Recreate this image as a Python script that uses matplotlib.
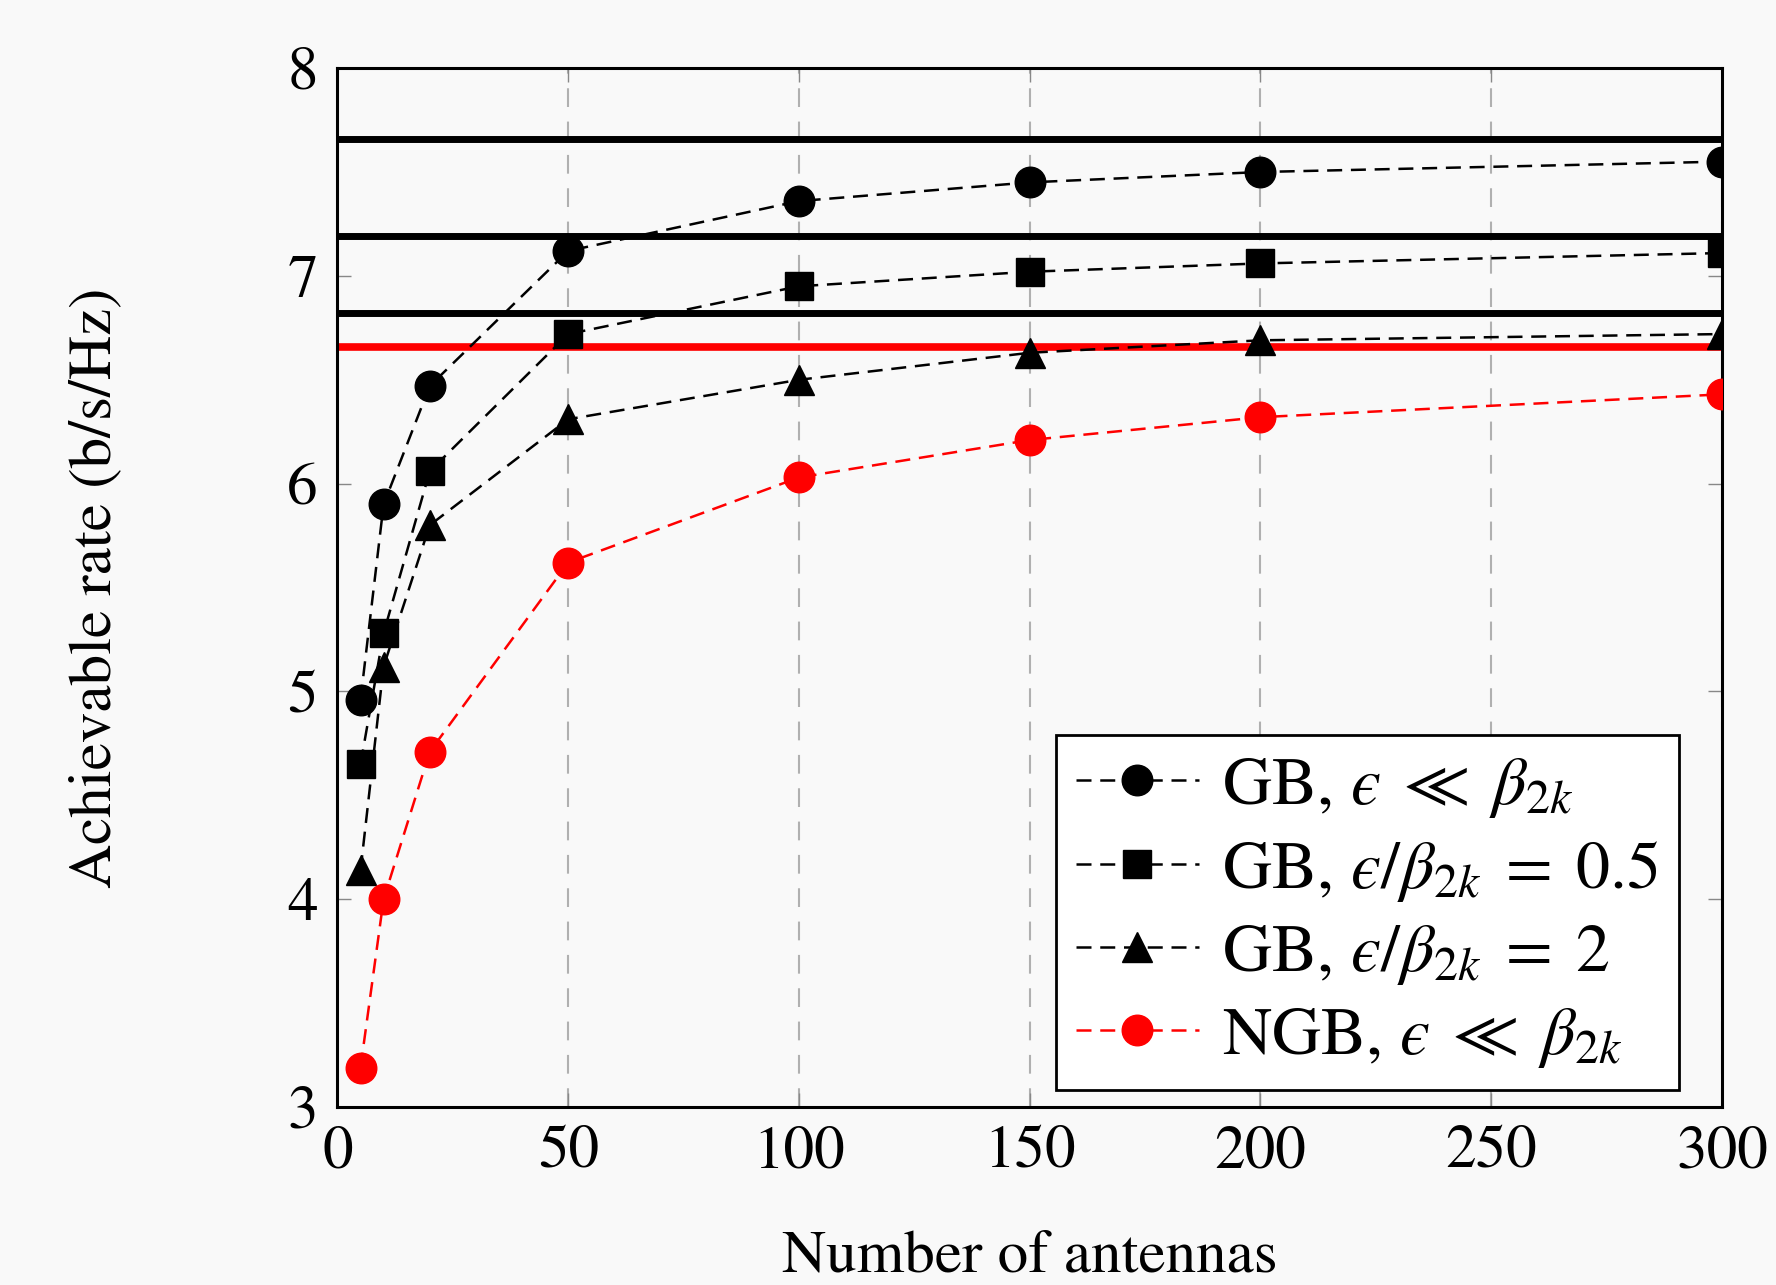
import matplotlib
matplotlib.use("Agg")
import matplotlib.pyplot as plt

plt.rcParams["font.family"] = ["STIXGeneral", "DejaVu Serif"]
plt.rcParams["mathtext.fontset"] = "stix"

# Antenna counts and achievable rates (b/s/Hz)
antennas = [5, 10, 20, 50, 100, 150, 200, 300]
gb_small = [4.96, 5.90, 6.47, 7.12, 7.36, 7.45, 7.50, 7.55]
gb_half = [4.65, 5.28, 6.06, 6.72, 6.95, 7.02, 7.06, 7.11]
gb_two = [4.14, 5.12, 5.80, 6.31, 6.50, 6.63, 6.69, 6.72]
ngb_small = [3.19, 4.00, 4.71, 5.62, 6.03, 6.21, 6.32, 6.43]

# Asymptotic limits
limits_black = [7.66, 7.19, 6.82]
limit_red = 6.66

bg = "#f9f9f9"
fig = plt.figure(figsize=(17.76, 12.85), dpi=100, facecolor=bg)
ax = fig.add_axes([0.19, 0.1385, 0.7796, 0.8085])
ax.set_facecolor(bg)

for y in limits_black:
    ax.axhline(y, color="black", linewidth=5, zorder=2)
ax.axhline(limit_red, color="#ff0000", linewidth=5.5, zorder=2)

eps = "\u03f5"
dash = (0, (6, 3.5))
ax.plot(antennas, gb_small, color="black", linestyle=dash, linewidth=1.8,
        marker="o", markersize=22, label=r"GB, $%s \;\ll\; \beta_{2k}$" % eps, zorder=3)
ax.plot(antennas, gb_half, color="black", linestyle=dash, linewidth=1.8,
        marker="s", markersize=20, label=r"GB, $%s/\beta_{2k} \;=\; 0.5$" % eps, zorder=3)
ax.plot(antennas, gb_two, color="black", linestyle=dash, linewidth=1.8,
        marker="^", markersize=22, label=r"GB, $%s/\beta_{2k} \;=\; 2$" % eps, zorder=3)
ax.plot(antennas, ngb_small, color="#ff0000", linestyle=dash, linewidth=1.8,
        marker="o", markersize=22, label=r"NGB, $%s \;\ll\; \beta_{2k}$" % eps, zorder=3)

ax.set_xlim(0, 300)
ax.set_ylim(3, 8)
ax.set_xticks([0, 50, 100, 150, 200, 250, 300])
ax.set_yticks([3, 4, 5, 6, 7, 8])
ax.tick_params(direction="in", length=10, width=1, color="#888888",
               labelsize=44, pad=14, top=True, right=True)
ax.xaxis.grid(True, color="#b0b0b0", linestyle=(0, (9, 7)), linewidth=1.5)
for s in ax.spines.values():
    s.set_linewidth(2.2)

ax.set_xlabel("Number of antennas", fontsize=44, labelpad=35)
ax.set_ylabel("Achievable rate (b/s/Hz)", fontsize=44, labelpad=118)

leg = ax.legend(loc="lower right", bbox_to_anchor=(0.969, 0.016), fontsize=49,
                frameon=True, fancybox=False, framealpha=1, edgecolor="black",
                facecolor="white", handlelength=1.8, handletextpad=0.35,
                borderpad=0.3, labelspacing=0.28, borderaxespad=0)
leg.get_frame().set_linewidth(2)

fig.savefig("out.png", dpi=100, facecolor=bg)
